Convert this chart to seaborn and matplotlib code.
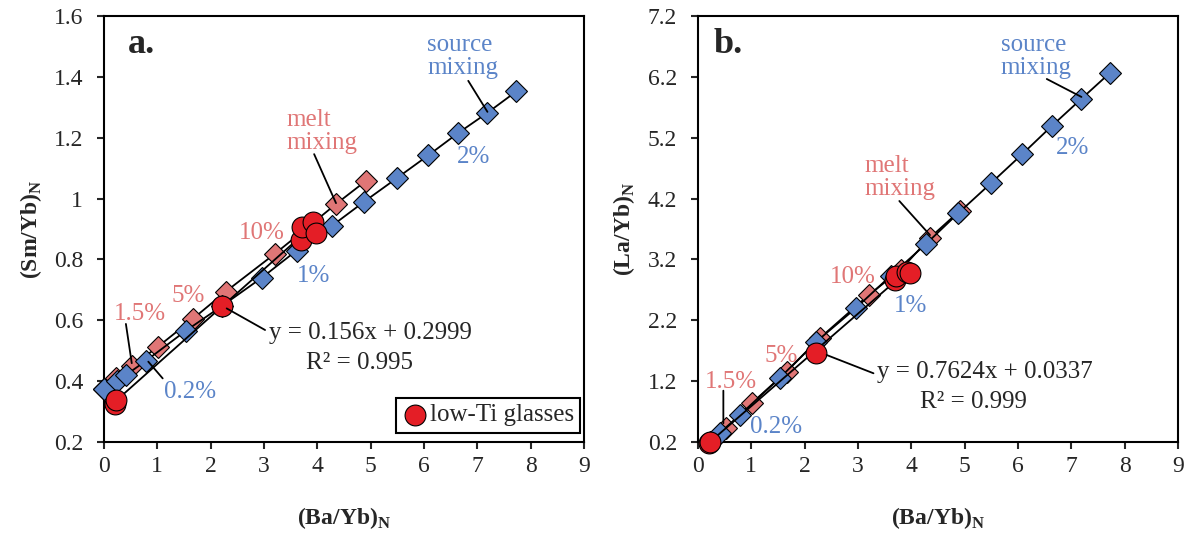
import numpy as np
import pandas as pd
import seaborn as sns
import matplotlib.pyplot as plt

# --------------------------------------------------#
# Values
# --------------------------------------------------#

# source mixing curve (blue diamonds)
src_x = [0.0, 0.24, 0.41, 0.78, 1.53, 2.22, 2.96, 3.61, 4.27, 4.88, 5.49, 6.08, 6.63, 7.19, 7.73]
src_sm = [0.375, 0.400, 0.420, 0.466, 0.565, 0.648, 0.740, 0.829, 0.910, 0.990, 1.067, 1.142, 1.214, 1.282, 1.352]
src_la = [0.00, 0.20, 0.35, 0.64, 1.25, 1.85, 2.40, 2.93, 3.45, 3.96, 4.45, 4.93, 5.39, 5.84, 6.27]

# melt mixing curve (red diamonds)
melt_x = [0.0, 0.22, 0.53, 1.01, 1.66, 2.28, 3.20, 3.80, 4.35, 4.91]
melt_sm = [0.375, 0.410, 0.450, 0.513, 0.604, 0.694, 0.818, 0.903, 0.982, 1.058]
melt_la = [0.00, 0.20, 0.43, 0.84, 1.355, 1.904, 2.615, 3.03, 3.557, 4.00]

# low-Ti glasses (red circles)
glass_x = [0.20, 0.22, 2.21, 3.69, 3.71, 3.91, 3.97]
glass_sm = [0.326, 0.338, 0.647, 0.865, 0.907, 0.924, 0.887]
glass_la = [0.19, 0.205, 1.66, 2.86, 2.92, 3.00, 2.98]

x_ticks = [0, 1, 2, 3, 4, 5, 6, 7, 8, 9]
sm_ticks = [0.2, 0.4, 0.6, 0.8, 1.0, 1.2, 1.4, 1.6]
sm_ticklabels = ["0.2", "0.4", "0.6", "0.8", "1", "1.2", "1.4", "1.6"]
la_ticks = [0.2, 1.2, 2.2, 3.2, 4.2, 5.2, 6.2, 7.2]
la_ticklabels = ["0.2", "1.2", "2.2", "3.2", "4.2", "5.2", "6.2", "7.2"]

# --------------------------------------------------#
# Style
# --------------------------------------------------#

sns.set_style("ticks")
plt.rcParams["font.family"] = ["Liberation Serif", "DejaVu Serif"]
plt.rcParams["mathtext.fontset"] = "custom"
plt.rcParams["mathtext.rm"] = "Liberation Serif"
plt.rcParams["mathtext.bf"] = "Liberation Serif:bold"

col_src = "#5B84C8"
col_melt = "#E07676"
col_glass = "#E41E26"
fs = 18

fig = plt.figure(figsize=(11.93, 5.5), dpi=100)
ax_a = fig.add_axes([0.0872, 0.1964, 0.4023, 0.7745])
ax_b = fig.add_axes([0.5851, 0.1964, 0.4023, 0.7745])


def draw_panel(ax, sx, sy, mx, my, gx, gy, with_legend):
    sns.lineplot(x=mx, y=my, ax=ax, sort=False, estimator=None, color="black",
                 linewidth=1.3, marker="D", markersize=11, markerfacecolor=col_melt,
                 markeredgecolor="black", markeredgewidth=0.8, clip_on=False, zorder=2)
    sns.lineplot(x=sx, y=sy, ax=ax, sort=False, estimator=None, color="black",
                 linewidth=1.3, marker="D", markersize=11, markerfacecolor=col_src,
                 markeredgecolor="black", markeredgewidth=0.8, clip_on=False, zorder=3)
    sns.regplot(x=np.array(gx), y=np.array(gy), ax=ax, scatter=False, ci=None,
                truncate=True, line_kws=dict(color="black", linewidth=1.3, zorder=4))
    sns.scatterplot(x=gx, y=gy, ax=ax, s=225, color=col_glass, edgecolor="black",
                    linewidth=0.8, zorder=5, clip_on=False,
                    label="low-Ti glasses" if with_legend else None, legend=with_legend)

    ax.set_xlim(0, 9)
    ax.set_xticks(x_ticks)
    ax.set_xlabel(r"(Ba/Yb)$_\mathbf{N}$", fontsize=17, fontweight="bold")
    ax.xaxis.set_label_coords(0.5, -0.148)
    ax.tick_params(axis="both", direction="out", length=5, width=1.5, labelsize=17,
                   top=False, right=False)
    ax.tick_params(axis="x", pad=5)
    ax.tick_params(axis="y", pad=10)
    for sp in ax.spines.values():
        sp.set_linewidth(1.5)
        sp.set_color("black")
        sp.set_zorder(1)


def leader(ax, start, end):
    ax.annotate("", xy=end, xytext=start,
                arrowprops=dict(arrowstyle="-", color="black", lw=1.3,
                                shrinkA=0, shrinkB=0), zorder=6)


# --------------------------------------------------#
# Panel a
# --------------------------------------------------#

draw_panel(ax_a, src_x, src_sm, melt_x, melt_sm, glass_x, glass_sm, True)
ax_a.set_ylim(0.2, 1.6)
ax_a.set_yticks(sm_ticks)
ax_a.set_yticklabels(sm_ticklabels)
ax_a.set_ylabel(r"(Sm/Yb)$_\mathbf{N}$", fontsize=17, fontweight="bold")
ax_a.yaxis.set_label_coords(-0.126, 0.5)

# two-line labels: anchored at the baseline of the last line
ax_a.text(0.44, 1.479, "a.", fontsize=26, fontweight="bold", va="baseline")
ax_a.text(6.06, 1.409, "source\nmixing", color=col_src, fontsize=fs, va="baseline", linespacing=1.05)
leader(ax_a, (6.83, 1.387), (7.19, 1.285))
ax_a.text(3.43, 1.162, "melt\nmixing", color=col_melt, fontsize=fs, va="baseline", linespacing=1.05)
leader(ax_a, (3.94, 1.146), (4.35, 0.985))
ax_a.text(6.61, 1.118, "2%", color=col_src, fontsize=fs, va="baseline")
ax_a.text(2.52, 0.866, "10%", color=col_melt, fontsize=fs, va="baseline")
ax_a.text(3.61, 0.725, "1%", color=col_src, fontsize=fs, va="baseline")
ax_a.text(1.26, 0.661, "5%", color=col_melt, fontsize=fs, va="baseline")
ax_a.text(0.19, 0.601, "1.5%", color=col_melt, fontsize=fs, va="baseline")
leader(ax_a, (0.41, 0.588), (0.52, 0.459))
ax_a.text(1.125, 0.344, "0.2%", color=col_src, fontsize=fs, va="baseline")
leader(ax_a, (1.10, 0.409), (0.83, 0.464))
ax_a.text(3.09, 0.5375, "y = 0.156x + 0.2999", fontsize=fs, va="baseline")
ax_a.text(3.79, 0.44, "R² = 0.995", fontsize=fs, va="baseline")
leader(ax_a, (2.30, 0.639), (3.02, 0.568))

leg = ax_a.legend(loc="lower right", bbox_to_anchor=(0.992, 0.022), borderaxespad=0,
                  frameon=True, fancybox=False, edgecolor="black", framealpha=1,
                  handletextpad=0.1, borderpad=0.25, handlelength=1.0, fontsize=fs)
leg.get_frame().set_linewidth(1.5)

# --------------------------------------------------#
# Panel b
# --------------------------------------------------#

draw_panel(ax_b, src_x[1:], src_la[1:], melt_x[1:], melt_la[1:], glass_x, glass_la, False)
ax_b.set_ylim(0.2, 7.2)
ax_b.set_yticks(la_ticks)
ax_b.set_yticklabels(la_ticklabels)
ax_b.set_ylabel(r"(La/Yb)$_\mathbf{N}$", fontsize=17, fontweight="bold")
ax_b.yaxis.set_label_coords(-0.128, 0.5)

ax_b.text(0.29, 6.587, "b.", fontsize=26, fontweight="bold", va="baseline")
ax_b.text(5.675, 6.247, "source\nmixing", color=col_src, fontsize=fs, va="baseline", linespacing=1.05)
leader(ax_b, (6.54, 6.165), (7.19, 5.87))
ax_b.text(3.13, 4.258, "melt\nmixing", color=col_melt, fontsize=fs, va="baseline", linespacing=1.05)
leader(ax_b, (3.775, 4.16), (4.35, 3.60))
ax_b.text(6.71, 4.932, "2%", color=col_src, fontsize=fs, va="baseline")
ax_b.text(2.475, 2.808, "10%", color=col_melt, fontsize=fs, va="baseline")
ax_b.text(3.675, 2.341, "1%", color=col_src, fontsize=fs, va="baseline")
ax_b.text(1.2375, 1.519, "5%", color=col_melt, fontsize=fs, va="baseline")
ax_b.text(0.13, 1.082, "1.5%", color=col_melt, fontsize=fs, va="baseline")
leader(ax_b, (0.475, 1.043), (0.475, 0.507))
ax_b.text(0.975, 0.343, "0.2%", color=col_src, fontsize=fs, va="baseline")
ax_b.text(3.35, 1.247, "y = 0.7624x + 0.0337", fontsize=fs, va="baseline")
ax_b.text(4.16, 0.754, "R² = 0.999", fontsize=fs, va="baseline")
leader(ax_b, (2.41, 1.63), (3.29, 1.329))

fig.savefig("out.png", dpi=100)
